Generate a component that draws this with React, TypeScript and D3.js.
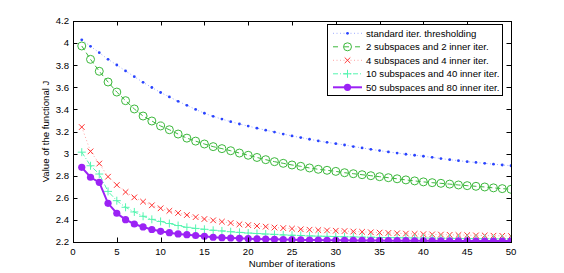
import { useEffect, useRef } from 'react';
import * as d3 from 'd3';

const iterations = d3.range(1, 51);

const standardIter = [
  4.03, 3.971, 3.913, 3.853, 3.802, 3.748, 3.696, 3.645, 3.598, 3.553,
  3.513, 3.473, 3.437, 3.4, 3.365, 3.337, 3.312, 3.289, 3.268, 3.249,
  3.23, 3.212, 3.195, 3.177, 3.16, 3.145, 3.13, 3.115, 3.102, 3.09,
  3.078, 3.064, 3.051, 3.039, 3.027, 3.015, 3.005, 2.994, 2.985, 2.976,
  2.966, 2.955, 2.945, 2.936, 2.927, 2.92, 2.912, 2.904, 2.897, 2.89,
];
const sub2 = [
  3.974, 3.853, 3.745, 3.648, 3.557, 3.479, 3.404, 3.34, 3.295, 3.25,
  3.216, 3.177, 3.14, 3.113, 3.087, 3.063, 3.045, 3.026, 3.005, 2.985,
  2.965, 2.945, 2.927, 2.912, 2.897, 2.885, 2.87, 2.858, 2.849, 2.839,
  2.827, 2.818, 2.809, 2.8, 2.791, 2.782, 2.772, 2.762, 2.753, 2.744,
  2.737, 2.731, 2.724, 2.716, 2.71, 2.704, 2.698, 2.69, 2.683, 2.677,
];
const sub4 = [
  3.24, 3.02, 2.91, 2.791, 2.716, 2.652, 2.604, 2.565, 2.532, 2.505,
  2.482, 2.463, 2.444, 2.425, 2.408, 2.396, 2.384, 2.372, 2.36, 2.353,
  2.345, 2.339, 2.331, 2.326, 2.321, 2.315, 2.311, 2.308, 2.305, 2.302,
  2.299, 2.295, 2.292, 2.288, 2.285, 2.282, 2.279, 2.276, 2.273, 2.271,
  2.269, 2.267, 2.265, 2.263, 2.262, 2.26, 2.259, 2.257, 2.256, 2.254,
];
const sub10 = [
  3.013, 2.89, 2.815, 2.658, 2.574, 2.514, 2.472, 2.433, 2.405, 2.386,
  2.367, 2.349, 2.333, 2.323, 2.315, 2.306, 2.3, 2.293, 2.287, 2.281,
  2.277, 2.272, 2.269, 2.264, 2.261, 2.259, 2.255, 2.253, 2.251, 2.249,
  2.247, 2.246, 2.244, 2.243, 2.241, 2.24, 2.239, 2.238, 2.237, 2.236,
  2.235, 2.234, 2.233, 2.232, 2.231, 2.231, 2.23, 2.229, 2.229, 2.228,
];
const sub50 = [
  2.876, 2.786, 2.74, 2.55, 2.46, 2.402, 2.363, 2.336, 2.313, 2.297,
  2.284, 2.273, 2.266, 2.259, 2.251, 2.243, 2.239, 2.236, 2.233, 2.23,
  2.228, 2.226, 2.224, 2.222, 2.221, 2.219, 2.218, 2.217, 2.216, 2.215,
  2.215, 2.214, 2.214, 2.213, 2.213, 2.212, 2.212, 2.212, 2.211, 2.211,
  2.211, 2.21, 2.21, 2.21, 2.21, 2.209, 2.209, 2.209, 2.209, 2.209,
];

const seriesLabels = [
  'standard iter. thresholding',
  '2 subspaces and 2 inner iter.',
  '4 subspaces and 4 inner iter.',
  '10 subspaces and 40 inner iter.',
  '50 subspaces and 80 inner iter.',
];
const xTicks = [0, 5, 10, 15, 20, 25, 30, 35, 40, 45, 50];
const yTicks = [2.2, 2.4, 2.6, 2.8, 3, 3.2, 3.4, 3.6, 3.8, 4, 4.2];

type Marker = 'point' | 'circle' | 'x' | 'plus' | 'dot';
interface SeriesStyle {
  color: string;
  dash: string | null;
  width: number;
  marker: Marker;
  lineOpacity: number;
}

const styles: SeriesStyle[] = [
  { color: '#2a44ff', dash: '1,2.5', width: 1, marker: 'point', lineOpacity: 0.45 },
  { color: '#3cb83c', dash: '5,3', width: 1, marker: 'circle', lineOpacity: 1 },
  { color: '#ff3333', dash: '1,2.5', width: 1, marker: 'x', lineOpacity: 0.45 },
  { color: '#55f5b0', dash: '5,2,1,2', width: 1, marker: 'plus', lineOpacity: 1 },
  { color: '#9b22f5', dash: null, width: 2, marker: 'dot', lineOpacity: 1 },
];

const FONT = 'Liberation Sans, Arial, Helvetica, sans-serif';
const FONT_SIZE = '9.6px';

function drawMarker(g: any, kind: Marker, x: number, y: number, color: string) {
  if (kind === 'point') {
    g.append('circle').attr('cx', x).attr('cy', y).attr('r', 1.4).attr('fill', color);
  } else if (kind === 'circle') {
    g.append('circle').attr('cx', x).attr('cy', y).attr('r', 4)
      .attr('fill', 'none').attr('stroke', color).attr('stroke-width', 1);
  } else if (kind === 'x') {
    const s = 2.8;
    g.append('path').attr('d', `M${x - s},${y - s}L${x + s},${y + s}M${x - s},${y + s}L${x + s},${y - s}`)
      .attr('stroke', color).attr('stroke-width', 1);
  } else if (kind === 'plus') {
    const s = 4;
    g.append('path').attr('d', `M${x - s},${y}L${x + s},${y}M${x},${y - s}L${x},${y + s}`)
      .attr('stroke', color).attr('stroke-width', 1);
  } else {
    g.append('circle').attr('cx', x).attr('cy', y).attr('r', 3.6).attr('fill', color);
  }
}

export default function App() {
  const svgRef = useRef<SVGSVGElement>(null);

  useEffect(() => {
    document.body.style.margin = '0';
    if (!svgRef.current) return;
    const width = 564;
    const height = 273;
    const left = 73, right = 511, top = 21, bottom = 242;

    const svg = d3.select(svgRef.current)
      .attr('width', width)
      .attr('height', height)
      .style('background', '#ffffff')
      .style('font-family', FONT);
    svg.selectAll('*').remove();

    const x = d3.scaleLinear().domain([0, 50]).range([left, right]);
    const y = d3.scaleLinear().domain([2.2, 4.2]).range([bottom, top]);

    const clip = svg.append('defs').append('clipPath').attr('id', 'plot-clip');
    clip.append('rect').attr('x', left).attr('y', top).attr('width', right - left).attr('height', bottom - top);

    const allSeries = [standardIter, sub2, sub4, sub10, sub50];

    const plot = svg.append('g').attr('clip-path', 'url(#plot-clip)');
    allSeries.forEach((vals, si) => {
      const st = styles[si];
      const line = d3.line<number>()
        .x((_d: number, i: number) => x(iterations[i]))
        .y((d: number) => y(d));
      const path = plot.append('path')
        .attr('d', line(vals))
        .attr('fill', 'none')
        .attr('stroke', st.color)
        .attr('stroke-width', st.width)
        .attr('stroke-opacity', st.lineOpacity);
      if (st.dash) path.attr('stroke-dasharray', st.dash);
      vals.forEach((v, i) => drawMarker(plot, st.marker, x(iterations[i]), y(v), st.color));
    });

    // Axes box and inward ticks (MATLAB style)
    const axes = svg.append('g');
    const tickLen = 4.5;
    xTicks.forEach(t => {
      const xp = Math.round(x(t)) + 0.5;
      axes.append('line').attr('x1', xp).attr('x2', xp).attr('y1', bottom).attr('y2', bottom - tickLen)
        .attr('stroke', '#000').attr('stroke-width', 1);
      axes.append('line').attr('x1', xp).attr('x2', xp).attr('y1', top).attr('y2', top + tickLen)
        .attr('stroke', '#000').attr('stroke-width', 1);
      axes.append('text').attr('x', x(t)).attr('y', bottom + 12.5)
        .attr('text-anchor', 'middle').attr('font-size', FONT_SIZE).attr('fill', '#000')
        .text(`${t}`);
    });
    yTicks.forEach(t => {
      const yp = Math.round(y(t)) + 0.5;
      axes.append('line').attr('x1', left).attr('x2', left + tickLen).attr('y1', yp).attr('y2', yp)
        .attr('stroke', '#000').attr('stroke-width', 1);
      axes.append('line').attr('x1', right).attr('x2', right - tickLen).attr('y1', yp).attr('y2', yp)
        .attr('stroke', '#000').attr('stroke-width', 1);
      axes.append('text').attr('x', left - 4).attr('y', y(t)).attr('dy', '0.35em')
        .attr('text-anchor', 'end').attr('font-size', FONT_SIZE).attr('fill', '#000')
        .text(d3.format('~g')(t));
    });
    axes.append('rect')
      .attr('x', left + 0.5).attr('y', top + 0.5)
      .attr('width', right - left).attr('height', bottom - top)
      .attr('fill', 'none').attr('stroke', '#000').attr('stroke-width', 1);

    // Axis labels
    svg.append('text').attr('x', (left + right) / 2).attr('y', 267)
      .attr('text-anchor', 'middle').attr('font-size', FONT_SIZE).attr('fill', '#000')
      .text('Number of iterations');
    svg.append('text')
      .attr('transform', `translate(49, ${(top + bottom) / 2}) rotate(-90)`)
      .attr('text-anchor', 'middle').attr('font-size', FONT_SIZE).attr('fill', '#000')
      .text('Value of the functional J');

    // Legend
    const lg = svg.append('g');
    lg.append('rect').attr('x', 327.5).attr('y', 24.5).attr('width', 175).attr('height', 71)
      .attr('fill', '#ffffff').attr('stroke', '#000').attr('stroke-width', 1);
    seriesLabels.forEach((label, i) => {
      const st = styles[i];
      const cy = 33.3 + i * 13.5;
      const seg = lg.append('line').attr('x1', 333).attr('x2', 362).attr('y1', cy).attr('y2', cy)
        .attr('stroke', st.color).attr('stroke-width', st.width).attr('stroke-opacity', st.lineOpacity);
      if (st.dash) seg.attr('stroke-dasharray', st.marker === 'circle' ? '5,6' : st.dash);
      drawMarker(lg, st.marker, 347.5, cy, st.color);
      lg.append('text').attr('x', 366).attr('y', cy).attr('dy', '0.35em')
        .attr('font-size', FONT_SIZE).attr('fill', '#000').text(label);
    });
  }, []);

  return <svg ref={svgRef} style={{ display: 'block' }} />;
}
